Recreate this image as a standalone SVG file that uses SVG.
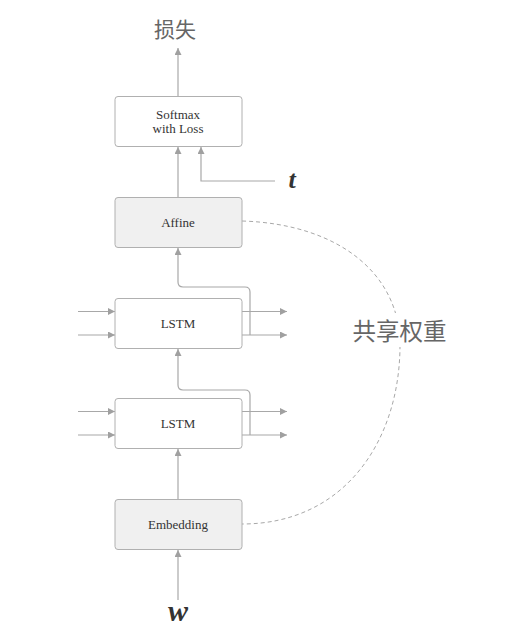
<svg xmlns="http://www.w3.org/2000/svg" width="513" height="633" viewBox="0 0 513 633">
<defs>
<marker id="ah" viewBox="0 0 10 10" refX="10" refY="5" markerWidth="8" markerHeight="7" markerUnits="userSpaceOnUse" orient="auto">
<path d="M0,0 L10,5 L0,10 z" fill="#a0a0a0"/>
</marker>
<style>
.box{fill:#ffffff;stroke:#b0b0b0;stroke-width:1}
.gbox{fill:#f0f0f0;stroke:#b0b0b0;stroke-width:1}
.lbl{font-family:"Liberation Serif","DejaVu Serif",serif;font-size:13px;fill:#333;text-anchor:middle}
.ln{fill:none;stroke:#a8a8a8;stroke-width:1.2}
.arr{fill:none;stroke:#a8a8a8;stroke-width:1.2;marker-end:url(#ah)}
.dash{fill:none;stroke:#a8a8a8;stroke-width:1;stroke-dasharray:4,3}
.cjk{font-family:"Noto Sans CJK SC","Noto Sans",sans-serif;fill:#666;text-anchor:middle}
.var{font-family:"Liberation Serif","DejaVu Serif",serif;font-style:italic;font-weight:bold;fill:#333;text-anchor:middle}
</style>
</defs>
<rect width="513" height="633" fill="#ffffff"/>

<g id="connectors">
<path class="arr" d="M178,96 V48"/>
<path class="arr" d="M178,197 V147"/>
<path class="arr" d="M275,181 H201 V147"/>
<path class="arr" d="M250,335 V292 Q250,287 245,287 H183 Q178,287 178,282 V248"/>
<path class="arr" d="M250,435 V395 Q250,390 245,390 H183 Q178,390 178,385 V349"/>
<path class="arr" d="M178,499 V449"/>
<path class="arr" d="M178,600 V550"/>
<path class="arr" d="M78,311.5 H115"/>
<path class="arr" d="M78,335 H115"/>
<path class="arr" d="M242,311.5 H287"/>
<path class="arr" d="M242,335 H287"/>
<path class="arr" d="M78,411.5 H115"/>
<path class="arr" d="M78,435 H115"/>
<path class="arr" d="M242,411.5 H287"/>
<path class="arr" d="M242,435 H287"/>
<path class="dash" d="M242,221 C340,224 400,275 400,345 C400,440 345,524 242,524"/>
</g>

<g id="softmax">
<rect class="box" x="115" y="96.5" width="127" height="50" rx="3"/>
<text class="lbl" x="178" y="119">Softmax</text>
<text class="lbl" x="178" y="132.5">with Loss</text>
</g>
<g id="affine">
<rect class="gbox" x="115" y="197.5" width="127" height="50" rx="3"/>
<text class="lbl" x="178" y="226.5">Affine</text>
</g>
<g id="lstm1">
<rect class="box" x="115" y="298.5" width="127" height="50" rx="3"/>
<text class="lbl" x="178" y="327.5">LSTM</text>
</g>
<g id="lstm2">
<rect class="box" x="115" y="398.5" width="127" height="50" rx="3"/>
<text class="lbl" x="178" y="427.5">LSTM</text>
</g>
<g id="embedding">
<rect class="gbox" x="115" y="499.5" width="127" height="50" rx="3"/>
<text class="lbl" x="178" y="528.5">Embedding</text>
</g>

<g id="loss">
<text class="cjk" x="175" y="37" font-size="21">损失</text>
</g>
<g id="t">
<text class="var" x="292" y="188" font-size="26">t</text>
</g>
<g id="w">
<text class="var" x="178" y="621" font-size="30">w</text>
</g>
<g id="shared">
<rect x="349" y="313" width="100" height="34" fill="#ffffff"/>
<text class="cjk" x="399.5" y="340" font-size="23.5">共享权重</text>
</g>
</svg>
